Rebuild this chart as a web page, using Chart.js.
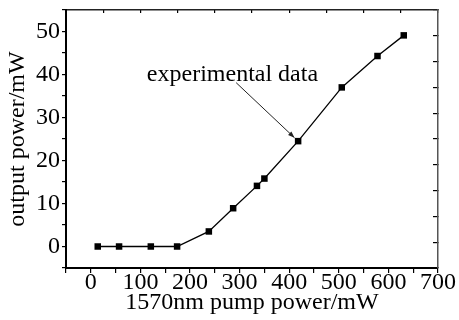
<!DOCTYPE html>
<html>
<head>
<meta charset="utf-8">
<script src="https://cdn.jsdelivr.net/npm/chart.js@4/dist/chart.umd.min.js"></script>
<style>
  html, body { margin: 0; padding: 0; background: #fff; }
  #wrap { width: 459px; height: 320px; }
</style>
</head>
<body>
<div id="wrap"><canvas id="chart" width="459" height="320"></canvas></div>
<script>
// values
const pumpPower = [14, 57, 121, 174, 238, 287, 335, 350, 418, 506, 578, 631];
const outputPower = [0, 0, 0, 0, 3.5, 8.9, 14.1, 15.8, 24.5, 37.0, 44.3, 49.1];

const xTitle = "1570nm pump power/mW";
const yTitle = "output power/mW";
const noteText = "experimental data";
const notePoint = 8;            // index of the point the arrow goes to
const noteTextAt = [113, 38.6]; // left / baseline of label, data units
const noteLineFrom = [293, 38.1];

const serif = "'Liberation Serif', 'DejaVu Serif', serif";
const tickFont = { family: serif, size: 24 };
const titleFont = { family: serif, size: 24, lineHeight: 1 };

const annotate = {
    id: "annotate",
    afterDatasetsDraw(chart) {
        const ctx = chart.ctx;
        const xs = chart.scales.x, ys = chart.scales.y;
        ctx.save();
        ctx.fillStyle = "#000";
        ctx.font = "24px " + serif;
        ctx.textBaseline = "alphabetic";
        ctx.textAlign = "left";
        ctx.fillText(noteText, xs.getPixelForValue(noteTextAt[0]), ys.getPixelForValue(noteTextAt[1]));

        let x1 = xs.getPixelForValue(noteLineFrom[0]), y1 = ys.getPixelForValue(noteLineFrom[1]);
        let px = xs.getPixelForValue(pumpPower[notePoint]), py = ys.getPixelForValue(outputPower[notePoint]);
        let a = Math.atan2(py - y1, px - x1);
        let x2 = px - Math.cos(a) * 5, y2 = py - Math.sin(a) * 5;
        ctx.strokeStyle = "#222";
        ctx.lineWidth = 1;
        ctx.beginPath();
        ctx.moveTo(x1, y1);
        ctx.lineTo(x2, y2);
        ctx.stroke();
        // arrow head
        ctx.beginPath();
        ctx.moveTo(x2, y2);
        ctx.lineTo(x2 - 7 * Math.cos(a - 0.35), y2 - 7 * Math.sin(a - 0.35));
        ctx.lineTo(x2 - 7 * Math.cos(a + 0.35), y2 - 7 * Math.sin(a + 0.35));
        ctx.closePath();
        ctx.fillStyle = "#222";
        ctx.fill();
        ctx.restore();
    }
};

// fixed box sizes, no label overhang padding
function fixHeight(h) {
    return s => { s.height = h; s.paddingLeft = 0; s.paddingRight = 0; };
}
function fixWidth(w) {
    return s => { s.width = w; s.paddingTop = 0; s.paddingBottom = 0; };
}

new Chart(document.getElementById("chart").getContext("2d"), {
    type: "line",
    data: {
        datasets: [{
            data: pumpPower.map((p, i) => ({ x: p, y: outputPower[i] })),
            borderColor: "#000",
            borderWidth: 1.3,
            backgroundColor: "#000",
            pointStyle: "rect",
            pointRadius: 4.6,
            pointBorderWidth: 0,
            tension: 0,
            clip: false
        }]
    },
    options: {
        responsive: false,
        animation: false,
        layout: { padding: 0 },
        plugins: { legend: { display: false }, tooltip: { enabled: false } },
        scales: {
            x: {
                type: "linear",
                position: "bottom",
                min: -50,
                max: 700,
                ticks: {
                    stepSize: 50,
                    autoSkip: false,
                    maxRotation: 0,
                    padding: -5,
                    color: "#000",
                    font: tickFont,
                    callback: v => (v >= 0 && v % 100 === 0) ? v : ""
                },
                grid: { drawOnChartArea: false, tickLength: 5, color: "#000", lineWidth: 1.2 },
                border: { color: "#000", width: 2 },
                title: { display: true, text: xTitle, color: "#000", font: titleFont, padding: { top: 0, bottom: 5 } },
                afterFit: fixHeight(52)
            },
            xTop: {
                type: "linear",
                position: "top",
                min: -50,
                max: 700,
                ticks: { display: false, stepSize: 75 },
                grid: { drawOnChartArea: false, tickLength: -3, color: "#000", lineWidth: 1.2 },
                border: { color: "#222", width: 1.5 },
                afterFit: fixHeight(10)
            },
            y: {
                type: "linear",
                position: "left",
                min: -5,
                max: 55,
                ticks: {
                    stepSize: 5,
                    autoSkip: false,
                    padding: 2,
                    color: "#000",
                    font: tickFont,
                    callback: v => (v >= 0 && v % 10 === 0) ? v : ""
                },
                grid: { drawOnChartArea: false, tickLength: 4, color: "#000", lineWidth: 1.2 },
                border: { color: "#000", width: 2 },
                title: { display: true, text: yTitle, color: "#000", font: titleFont, padding: { top: 6, bottom: 0 } },
                afterFit: fixWidth(66)
            },
            yRight: {
                type: "linear",
                position: "right",
                min: -5,
                max: 55,
                ticks: { display: false, stepSize: 6 },
                grid: { drawOnChartArea: false, tickLength: -5, color: "#000", lineWidth: 1.2 },
                border: { color: "#555", width: 1.5 },
                afterFit: fixWidth(21)
            }
        }
    },
    plugins: [annotate]
});
</script>
</body>
</html>
